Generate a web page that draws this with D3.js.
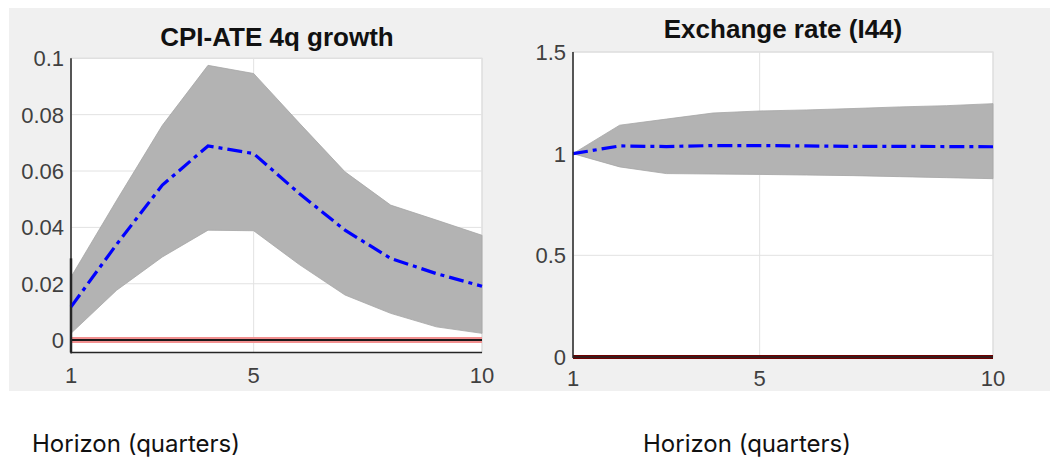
<!DOCTYPE html>
<html>
<head>
<meta charset="utf-8">
<style>
  body { margin: 0; background: #fff; }
  svg text { font-family: "Liberation Sans", Arial, sans-serif; }
  .tick-label { fill: #404040; font-size: 22px; }
  .title { fill: #111; font-size: 26px; font-weight: bold; }
  .xcap { fill: #111; font-family: Inter, "Open Sans", sans-serif; font-size: 24px; }
</style>
</head>
<body>
<svg width="1050" height="460"></svg>
<script src="https://cdn.jsdelivr.net/npm/d3@7"></script>
<script>

// horizon (quarters)
var horizon = [1, 2, 3, 4, 5, 6, 7, 8, 9, 10];
var xTicks = [1, 5, 10];

// CPI-ATE 4q growth
var cpiLower  = [0.0024, 0.0177, 0.0295, 0.0390, 0.0388, 0.0268, 0.0160, 0.0095, 0.0047, 0.0024];
var cpiMedian = [0.0118, 0.0340, 0.0550, 0.0689, 0.0662, 0.0520, 0.0390, 0.0290, 0.0236, 0.0191];
var cpiUpper  = [0.0224, 0.0496, 0.0762, 0.0975, 0.0946, 0.0770, 0.0597, 0.0479, 0.0426, 0.0372];
var cpiTicks  = [0, 0.02, 0.04, 0.06, 0.08, 0.1];

// Exchange rate (I44)
var fxLower  = [1.000, 0.935, 0.902, 0.900, 0.898, 0.895, 0.892, 0.887, 0.882, 0.877];
var fxMedian = [1.000, 1.038, 1.035, 1.040, 1.040, 1.038, 1.036, 1.036, 1.035, 1.034];
var fxUpper  = [1.000, 1.140, 1.170, 1.200, 1.210, 1.215, 1.222, 1.230, 1.236, 1.246];
var fxTicks  = [0, 0.5, 1, 1.5];

var svg = d3.select("svg");

// figure background
svg.append("rect").attr("x", 9).attr("y", 8).attr("width", 1041).attr("height", 383).attr("fill", "#f0f0f0");

function panel(opt) {
    var g = svg.append("g");
    var x = d3.scaleLinear().domain([1, 10]).range(opt.xr);
    var y = d3.scaleLinear().domain(opt.yd).range(opt.yr);

    g.append("rect")
        .attr("x", opt.xr[0]).attr("y", opt.yr[1])
        .attr("width", opt.xr[1] - opt.xr[0]).attr("height", opt.yr[0] - opt.yr[1])
        .attr("fill", "#fff").attr("stroke", "#d4d4d4").attr("stroke-width", 1);

    // grid
    g.selectAll(".hg").data(opt.yTicks).enter().append("line")
        .attr("x1", opt.xr[0]).attr("x2", opt.xr[1])
        .attr("y1", function(d) { return y(d); }).attr("y2", function(d) { return y(d); })
        .attr("stroke", "#e2e2e2").attr("stroke-width", 1);
    g.selectAll(".vg").data(xTicks).enter().append("line")
        .attr("x1", function(d) { return x(d); }).attr("x2", function(d) { return x(d); })
        .attr("y1", opt.yr[1]).attr("y2", opt.yr[0])
        .attr("stroke", "#e2e2e2").attr("stroke-width", 1);

    var rows = horizon.map(function(h, i) {
        return {h: h, lo: opt.lower[i], md: opt.median[i], hi: opt.upper[i]};
    });

    g.append("path").datum(rows)
        .attr("d", d3.area().x(function(d) { return x(d.h); })
            .y0(function(d) { return y(d.lo); }).y1(function(d) { return y(d.hi); }))
        .attr("fill", "#b3b3b3").attr("stroke", "#a6a6a6").attr("stroke-width", 0.8);

    opt.zero(g, x, y);

    g.append("path").datum(rows)
        .attr("d", d3.line().x(function(d) { return x(d.h); }).y(function(d) { return y(d.md); }))
        .attr("fill", "none").attr("stroke", "#0000ff").attr("stroke-width", 3.2)
        .attr("stroke-dasharray", "15,5,4,5");

    // axes lines
    g.append("line").attr("x1", opt.xr[0]).attr("x2", opt.xr[0])
        .attr("y1", opt.yr[1]).attr("y2", opt.yr[0] + 1)
        .attr("stroke", "#262626").attr("stroke-width", 1.5);
    g.append("line").attr("x1", opt.xr[0]).attr("x2", opt.xr[1])
        .attr("y1", opt.yr[0]).attr("y2", opt.yr[0])
        .attr("stroke", "#262626").attr("stroke-width", 1.5);

    g.selectAll(".yl").data(opt.yTicks).enter().append("text")
        .attr("class", "tick-label")
        .attr("x", opt.xr[0] - 7).attr("y", function(d) { return y(d); })
        .attr("dy", "0.36em").attr("text-anchor", "end")
        .text(function(d) { return String(d); });
    g.selectAll(".xl").data(xTicks).enter().append("text")
        .attr("class", "tick-label")
        .attr("x", function(d) { return x(d); }).attr("y", opt.xLabelY)
        .attr("text-anchor", "middle")
        .text(function(d) { return d; });

    g.append("text").attr("class", "title")
        .attr("x", opt.titleX).attr("y", opt.titleY).attr("text-anchor", "middle")
        .text(opt.title);

    svg.append("text").attr("class", "xcap")
        .attr("x", opt.capX).attr("y", 452)
        .text("Horizon (quarters)");
}

panel({
    title: "CPI-ATE 4q growth", titleX: 277, titleY: 46,
    xr: [71, 482], yr: [352.5, 58.3], yd: [-0.0044, 0.1],
    yTicks: cpiTicks, lower: cpiLower, median: cpiMedian, upper: cpiUpper,
    xLabelY: 383, capX: 32,
    zero: function(g, x, y) {
        g.append("line").attr("x1", x(1)).attr("x2", x(10))
            .attr("y1", y(0)).attr("y2", y(0))
            .attr("stroke", "#f29090").attr("stroke-width", 6);
        g.append("line").attr("x1", x(1)).attr("x2", x(10))
            .attr("y1", y(0)).attr("y2", y(0))
            .attr("stroke", "#1a1a1a").attr("stroke-width", 2);
        // darker stub on the left edge
        g.append("line").attr("x1", x(1)).attr("x2", x(1))
            .attr("y1", y(0.029)).attr("y2", y(-0.0044))
            .attr("stroke", "#262626").attr("stroke-width", 2.5);
    }
});

panel({
    title: "Exchange rate (I44)", titleX: 783, titleY: 38,
    xr: [573, 993], yr: [357, 52], yd: [0, 1.5],
    yTicks: fxTicks, lower: fxLower, median: fxMedian, upper: fxUpper,
    xLabelY: 386, capX: 643,
    zero: function(g, x, y) {
        g.append("line").attr("x1", x(1)).attr("x2", x(10))
            .attr("y1", y(0)).attr("y2", y(0))
            .attr("stroke", "#6e0000").attr("stroke-width", 4);
    }
});

</script>
</body>
</html>
